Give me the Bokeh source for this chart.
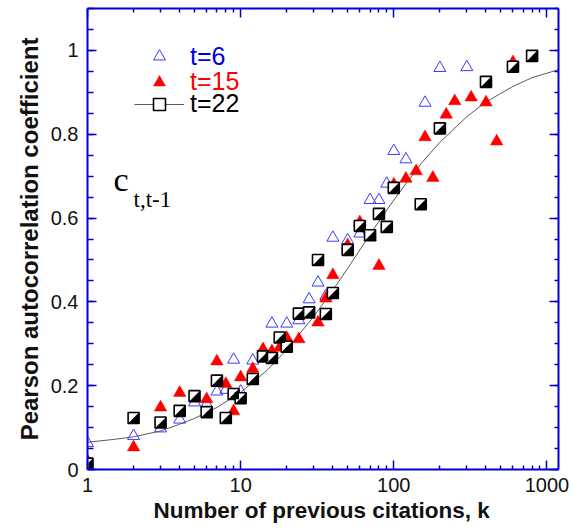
import base64
from bokeh.plotting import figure
from bokeh.models import (LinearAxis, LogAxis, FixedTicker, Legend, LegendItem, Label, Title,
                          ColumnDataSource, Range1d)
from bokeh.core.properties import value
from bokeh.embed import file_html
from bokeh.resources import INLINE

# ---------------- data ----------------
k_t6 = [1, 2, 3, 4, 5, 6, 7, 8, 9, 10, 12, 16, 20, 24, 28, 32, 36, 40, 50, 60, 70, 80, 90, 100,
        120, 160, 200, 300]
c_t6 = [0.063, 0.080, 0.098, 0.119, 0.160, 0.156, 0.186, 0.190, 0.262, 0.186,
        0.260, 0.348, 0.348, 0.356, 0.406, 0.446, 0.414, 0.553,
        0.547, 0.563, 0.643, 0.643, 0.682, 0.760,
        0.740, 0.875, 0.958, 0.960]

k_t15 = [1, 2, 3, 4, 6, 7, 8, 9, 10, 12, 14, 16, 18, 20, 24, 32, 36, 40, 50, 60, 70, 80, 90, 100,
         120, 140, 160, 180, 220, 250, 320, 400, 470, 600]
c_t15 = [0.020, 0.053, 0.148, 0.183, 0.168, 0.258, 0.204, 0.139, 0.220,
         0.240, 0.287, 0.282, 0.291, 0.314, 0.311, 0.351, 0.408, 0.464,
         0.535, 0.590, 0.555, 0.486, 0.575, 0.680,
         0.694, 0.712, 0.793, 0.696, 0.847, 0.879, 0.888, 0.876, 0.783, 0.972]

k_t22 = [1, 2, 3, 4, 5, 6, 7, 8, 9, 10, 12, 14, 16, 18, 20, 24, 28, 32, 36, 40, 50, 60, 70, 80, 90,
         100, 150, 200, 400, 600, 800]
c_t22 = [0.014, 0.123, 0.112, 0.140, 0.175, 0.137, 0.212, 0.123, 0.180, 0.170,
         0.216, 0.270, 0.266, 0.315, 0.293, 0.372, 0.375, 0.500, 0.371, 0.421,
         0.524, 0.581, 0.559, 0.610, 0.579, 0.672,
         0.633, 0.814, 0.925, 0.961, 0.987]

# fitted curve, points
k_fit = [1, 1.5, 2, 3, 4, 5, 7, 10, 15, 20, 30, 40, 50, 70, 100, 150, 200, 300, 400, 600, 800, 1190]
c_fit = [0.065, 0.072, 0.078, 0.092, 0.108, 0.122, 0.148, 0.184, 0.238, 0.286, 0.365, 0.428,
         0.480, 0.561, 0.643, 0.729, 0.781, 0.842, 0.877, 0.914, 0.935, 0.954]

x_ticks = [1, 10, 100, 1000]
x_labels = ["1", "10", "100", "1000"]
y_ticks = [0, 0.2, 0.4, 0.6, 0.8, 1.0]
y_labels = ["0", "0.2", "0.4", "0.6", "0.8", "1"]

# ---------------- styling ----------------
AXIS = "#0000d8"
BLUE = "#0000dd"
RED = "#ff0000"
FONT = "Liberation Sans"

x_minor = [m * t for t in x_ticks[:-1] for m in range(2, 10)]
y_minor = [round(i * 0.05, 2) for i in range(0, 23)]

FH = 461
p = figure(width=570, height=528, frame_width=471, frame_height=FH,
           x_axis_type="log", x_range=Range1d(1, 1190), y_range=Range1d(0, 1.1),
           output_backend="svg", toolbar_location=None,
           min_border_left=87, min_border_right=12, min_border_top=8, min_border_bottom=59)
p.outline_line_color = None
p.grid.visible = False
p.background_fill_color = "white"


def style_axis(ax, xaxis, labels):
    ax.axis_line_color = AXIS
    ax.axis_line_width = 2
    ax.major_tick_line_color = AXIS
    ax.minor_tick_line_color = AXIS
    ax.major_tick_line_width = 1.5
    ax.minor_tick_line_width = 1.5
    ax.major_tick_in = 9
    ax.major_tick_out = 0
    ax.minor_tick_out = 0
    if xaxis:
        ax.minor_tick_in = 4
        ax.ticker = FixedTicker(ticks=x_ticks, minor_ticks=x_minor)
    else:
        ax.ticker = FixedTicker(ticks=y_ticks, minor_ticks=y_minor)
    if labels:
        ax.major_label_text_font = FONT
        ax.major_label_text_font_size = "20px"
        ax.major_label_text_color = "#111111"
        ax.axis_label_text_font = FONT
        ax.axis_label_text_font_style = "bold"
        ax.axis_label_text_color = "#111111"
    else:
        ax.major_label_text_font_size = "1px"
        ax.major_label_text_alpha = 0
        ax.major_label_standoff = 0


xa = p.xaxis[0]
style_axis(xa, True, True)
xa.major_label_overrides = dict(zip(x_ticks, x_labels))
xa.major_label_standoff = 8

ya = p.yaxis[0]
style_axis(ya, False, True)
ya.minor_tick_in = 6
ya.major_label_overrides = dict(zip(y_ticks, y_labels))
ya.axis_label = "Pearson autocorrelation coefficient"
ya.axis_label_text_font_size = "24px"
ya.major_label_standoff = 9
ya.axis_label_standoff = 5

top = LogAxis()
style_axis(top, True, False)
p.add_layout(top, "above")

right = LinearAxis()
style_axis(right, False, False)
right.minor_tick_in = 4
p.add_layout(right, "right")

# x-axis title as a left-aligned title below the axis
p.add_layout(Title(text="Number of previous citations, k", align="left", offset=66,
                   standoff=3, text_font=FONT, text_font_size="22.5px",
                   text_font_style="bold", text_color="#111111"), "below")

# ---------------- glyphs ----------------
src6 = ColumnDataSource(dict(k=k_t6, c=c_t6))
src15 = ColumnDataSource(dict(k=k_t15, c=c_t15))
src22 = ColumnDataSource(dict(k=k_t22, c=c_t22))
srcfit = ColumnDataSource(dict(k=k_fit, c=c_fit))

r_fit = p.line("k", "c", source=srcfit, line_color="#5a5a5a", line_width=1)

r6 = p.scatter("k", "c", source=src6, marker="triangle", size=12,
               fill_alpha=0, line_color="#3a3aff", line_width=1)
r15 = p.scatter("k", "c", source=src15, marker="triangle", size=12.5,
                fill_color=RED, line_color=RED, line_width=0.5)
r22 = p.scatter("k", "c", source=src22, marker="square", size=11,
                fill_color="white", line_color="black", line_width=1.6)

half_svg = ("<svg xmlns='http://www.w3.org/2000/svg' width='12' height='12' viewBox='0 0 12 12'>"
            "<polygon points='12,0 12,12 0,12' fill='black'/></svg>")
half_uri = "data:image/svg+xml;base64," + base64.b64encode(half_svg.encode()).decode()
p.image_url(url=value(half_uri), x="k", y="c", w=11, h=11, w_units="screen", h_units="screen",
            anchor="center", source=src22)

# ---------------- legends ----------------
def add_legend(label, rends, color, center_from_top):
    vy = FH - (center_from_top + 15)
    leg = Legend(items=[LegendItem(label=label, renderers=rends)], location=(47, vy),
                 glyph_width=50, glyph_height=30, label_standoff=6, padding=0, margin=0,
                 spacing=0, border_line_color=None, background_fill_alpha=0,
                 label_text_font=FONT, label_text_font_size="25px", label_text_color=color)
    p.add_layout(leg)


add_legend("t=6", [r6], BLUE, 48)
add_legend("t=15", [r15], RED, 73.5)
add_legend("t=22", [r_fit, r22], "black", 95.5)

# ---------------- annotation ----------------
p.add_layout(Label(x=26, y=FH - 171, x_units="screen", y_units="screen", text="c",
                   text_font="Liberation Serif", text_font_size="34px",
                   text_baseline="alphabetic", text_color="black"))
p.add_layout(Label(x=46, y=FH - 191, x_units="screen", y_units="screen", text="t,t-1",
                   text_font="Liberation Serif", text_font_size="23px",
                   text_baseline="alphabetic", text_color="black"))

open("out.html", "w").write(file_html(p, INLINE))
